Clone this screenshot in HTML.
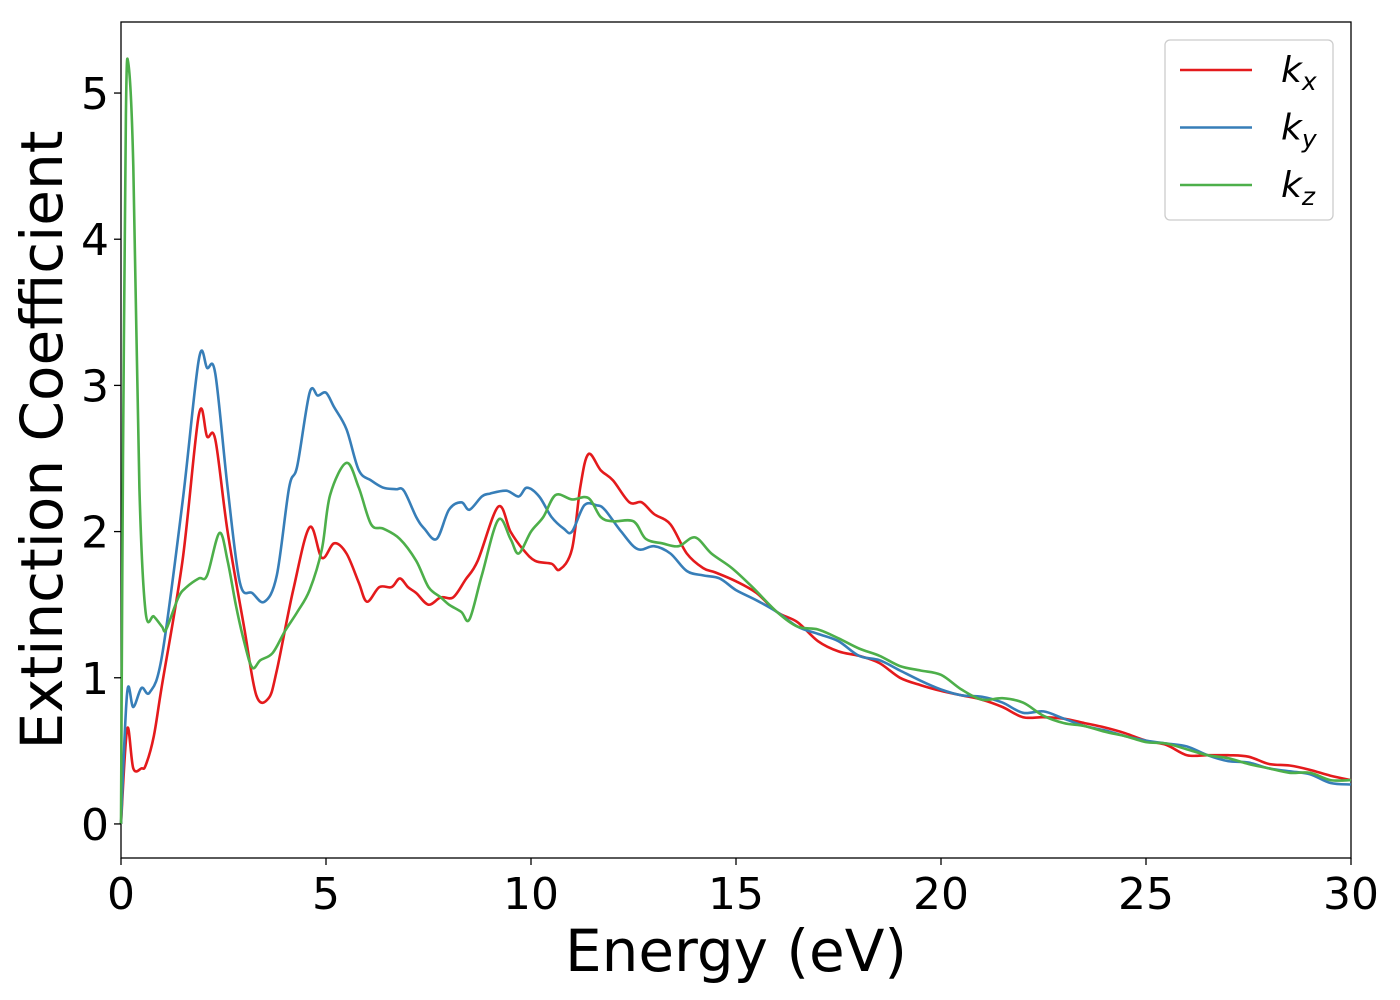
<!DOCTYPE html>
<html><head><meta charset="utf-8"><style>
body{margin:0;background:#fff;}
svg{display:block;font-family:"DejaVu Sans","Liberation Sans",sans-serif;}
</style></head><body>
<svg id="chart" width="1400" height="1000">
<rect x="121" y="22" width="1230" height="836" fill="#fff" stroke="#000" stroke-width="1.3"/>
<g id="series"></g>
<g id="axes"></g>
<text x="736" y="971" font-size="58" text-anchor="middle">Energy (eV)</text>
<text transform="translate(62,440) rotate(-90)" font-size="58" text-anchor="middle">Extinction Coefficient</text>
<g>
<rect x="1165" y="40" width="168" height="180" rx="5" fill="#fff" stroke="#ccc" stroke-width="1.3"/>
<g id="legend-entries"></g>
</g>
</svg>
<script>
const kxE=[0,0.15,0.3,0.5,0.6,0.8,1.0,1.5,1.9,2.1,2.3,2.6,3.0,3.3,3.6,3.8,4.2,4.6,4.9,5.2,5.5,5.8,6.0,6.3,6.6,6.8,7.0,7.2,7.5,7.8,8.1,8.4,8.7,9.2,9.5,9.8,10.1,10.5,10.7,11.0,11.2,11.4,11.7,12.0,12.4,12.7,13.0,13.4,13.8,14.2,14.5,15,15.5,16,16.5,17,17.5,18,18.5,19,19.5,20,20.5,21,21.5,22,22.5,23,23.5,24,24.5,25,25.5,26,26.5,27,27.5,28,28.5,29,29.5,30];
const kxV=[0,0.65,0.38,0.38,0.4,0.6,0.95,1.8,2.8,2.65,2.63,2.0,1.35,0.88,0.86,1.05,1.6,2.03,1.82,1.92,1.85,1.65,1.52,1.62,1.62,1.68,1.62,1.58,1.5,1.55,1.55,1.67,1.8,2.17,2.0,1.88,1.8,1.78,1.74,1.88,2.3,2.53,2.42,2.35,2.2,2.2,2.12,2.05,1.85,1.75,1.72,1.66,1.58,1.45,1.38,1.25,1.18,1.15,1.1,1.0,0.95,0.91,0.88,0.85,0.8,0.73,0.73,0.72,0.69,0.66,0.62,0.57,0.54,0.47,0.47,0.47,0.46,0.41,0.4,0.37,0.33,0.3];
const kyE=[0,0.15,0.3,0.5,0.7,1.0,1.5,1.9,2.1,2.3,2.6,2.9,3.2,3.5,3.8,4.1,4.3,4.6,4.8,5.0,5.2,5.5,5.8,6.1,6.4,6.7,6.9,7.2,7.4,7.7,8.0,8.3,8.5,8.8,9.0,9.4,9.7,9.9,10.2,10.5,10.8,11.0,11.3,11.6,11.8,12.2,12.6,13.0,13.4,13.8,14.2,14.6,15,15.5,16,16.5,17,17.5,18,18.5,19,19.5,20,20.5,21,21.5,22,22.5,23,23.5,24,24.5,25,25.5,26,26.5,27,27.5,28,28.5,29,29.5,30];
const kyV=[0,0.9,0.8,0.93,0.9,1.15,2.2,3.18,3.12,3.08,2.3,1.65,1.58,1.52,1.7,2.3,2.45,2.95,2.93,2.95,2.85,2.7,2.42,2.35,2.3,2.29,2.28,2.1,2.02,1.95,2.15,2.2,2.15,2.24,2.26,2.28,2.24,2.3,2.24,2.1,2.02,2.0,2.18,2.18,2.15,2.0,1.88,1.9,1.85,1.73,1.7,1.68,1.6,1.53,1.45,1.35,1.3,1.25,1.15,1.12,1.05,0.98,0.92,0.88,0.87,0.83,0.76,0.77,0.72,0.67,0.64,0.6,0.57,0.55,0.53,0.47,0.43,0.42,0.38,0.36,0.34,0.28,0.27];
const kzE=[0,0.05,0.12,0.18,0.3,0.45,0.6,0.8,1.0,1.1,1.4,1.6,1.9,2.1,2.4,2.6,2.8,3.0,3.2,3.4,3.7,4.0,4.3,4.6,4.9,5.1,5.5,5.8,6.1,6.4,6.8,7.2,7.5,7.8,8.0,8.3,8.5,8.8,9.2,9.5,9.7,10.0,10.3,10.6,11.0,11.4,11.7,12.0,12.5,12.8,13.2,13.6,14.0,14.4,14.9,15.4,16,16.5,17,17.5,18,18.5,19,19.5,20,20.5,21,21.5,22,22.5,23,23.5,24,24.5,25,25.5,26,26.5,27,27.5,28,28.5,29,29.5,30];
const kzV=[0,2.5,4.85,5.2,4.5,2.3,1.45,1.42,1.35,1.33,1.55,1.62,1.68,1.7,1.99,1.8,1.5,1.25,1.07,1.12,1.17,1.32,1.45,1.6,1.88,2.25,2.47,2.3,2.05,2.02,1.95,1.8,1.62,1.55,1.5,1.45,1.4,1.7,2.08,1.95,1.85,2.0,2.1,2.25,2.22,2.23,2.1,2.07,2.07,1.95,1.92,1.9,1.96,1.85,1.75,1.62,1.45,1.35,1.33,1.27,1.2,1.15,1.08,1.05,1.02,0.92,0.85,0.86,0.83,0.74,0.69,0.67,0.63,0.6,0.56,0.55,0.51,0.47,0.45,0.41,0.38,0.35,0.35,0.3,0.3];
const xTicks=[0,5,10,15,20,25,30];
const yTicks=[0,1,2,3,4,5];
const NS='http://www.w3.org/2000/svg';
const X0=121,X1=1351,Y0=858,Y1=22,xMin=0,xMax=30,yMin=-0.233,yMax=5.486;
const sx=e=>X0+(e-xMin)/(xMax-xMin)*(X1-X0);
const sy=v=>Y0-(v-yMin)/(yMax-yMin)*(Y0-Y1);
function pathFor(E,V){
  const p=E.map((e,i)=>[sx(e),sy(V[i])]);
  let d='M'+p[0][0].toFixed(1)+','+p[0][1].toFixed(1);
  for(let i=0;i<p.length-1;i++){
    const p0=p[Math.max(0,i-1)],p1=p[i],p2=p[i+1],p3=p[Math.min(p.length-1,i+2)];
    const c1=[p1[0]+(p2[0]-p0[0])/6,p1[1]+(p2[1]-p0[1])/6];
    const c2=[p2[0]-(p3[0]-p1[0])/6,p2[1]-(p3[1]-p1[1])/6];
    d+=` C${c1[0].toFixed(1)},${c1[1].toFixed(1)} ${c2[0].toFixed(1)},${c2[1].toFixed(1)} ${p2[0].toFixed(1)},${p2[1].toFixed(1)}`;
  }
  return d;
}
const sg=document.getElementById('series');
const defs=[[kxE,kxV,'#e41a1c','kx-line','x'],[kyE,kyV,'#377eb8','ky-line','y'],[kzE,kzV,'#4daf4a','kz-line','z']];
defs.forEach(s=>{
  const el=document.createElementNS(NS,'path');
  el.setAttribute('d',pathFor(s[0],s[1]));
  el.setAttribute('fill','none');el.setAttribute('stroke',s[2]);el.setAttribute('stroke-width','2.6');
  
  
  sg.appendChild(el);
});
const ax=document.getElementById('axes');
xTicks.forEach(t=>{
  const l=document.createElementNS(NS,'line');
  l.setAttribute('x1',sx(t));l.setAttribute('x2',sx(t));l.setAttribute('y1',Y0);l.setAttribute('y2',Y0+7);l.setAttribute('stroke','#000');l.setAttribute('stroke-width','1.3');
  
  
  ax.appendChild(l);
  const tx=document.createElementNS(NS,'text');
  tx.setAttribute('x',sx(t));tx.setAttribute('y',909);tx.setAttribute('font-size','44');tx.setAttribute('text-anchor','middle');
  tx.textContent=t;
  
  
  ax.appendChild(tx);
});
yTicks.forEach(t=>{
  const l=document.createElementNS(NS,'line');
  l.setAttribute('x1',X0-7);l.setAttribute('x2',X0);l.setAttribute('y1',sy(t));l.setAttribute('y2',sy(t));l.setAttribute('stroke','#000');l.setAttribute('stroke-width','1.3');
  
  
  ax.appendChild(l);
  const tx=document.createElementNS(NS,'text');
  tx.setAttribute('x',109);tx.setAttribute('y',sy(t)+16);tx.setAttribute('font-size','44');tx.setAttribute('text-anchor','end');
  tx.textContent=t;
  
  
  ax.appendChild(tx);
});
const lg=document.getElementById('legend-entries');
defs.forEach((s,i)=>{
  const y=70+i*57.5;
  const l=document.createElementNS(NS,'line');
  l.setAttribute('x1',1180);l.setAttribute('x2',1252);l.setAttribute('y1',y);l.setAttribute('y2',y);l.setAttribute('stroke',s[2]);l.setAttribute('stroke-width','2.6');
  
  
  lg.appendChild(l);
  const tx=document.createElementNS(NS,'text');
  tx.setAttribute('x',1281);tx.setAttribute('y',y+12);tx.setAttribute('font-size','36');tx.setAttribute('font-style','italic');
  tx.innerHTML='k<tspan font-size="25" dy="8">'+s[4]+'</tspan>';
  
  
  lg.appendChild(tx);
});
</script>
</body></html>
